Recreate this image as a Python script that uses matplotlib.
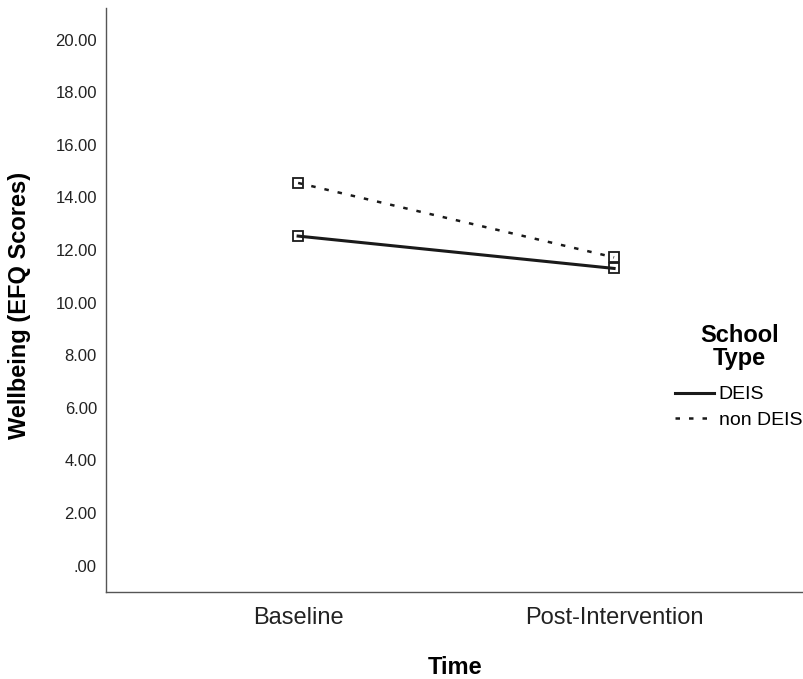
import matplotlib.pyplot as plt

plt.rcParams['font.family'] = ['Liberation Sans', 'DejaVu Sans']

# Данные
time_points = ["Baseline", "Post-Intervention"]
deis = [12.53, 11.30]
non_deis = [14.55, 11.72]
y_ticks = [0, 2, 4, 6, 8, 10, 12, 14, 16, 18, 20]
y_tick_labels = [".00", "2.00", "4.00", "6.00", "8.00", "10.00",
                 "12.00", "14.00", "16.00", "18.00", "20.00"]

fig = plt.figure(figsize=(8.04, 6.79), dpi=100)
ax = fig.add_axes([106 / 804, 1 - 592 / 679, 698 / 804, 584 / 679])

x = list(range(len(time_points)))
line_col = '#1a1a1a'

ax.plot(x, deis, color=line_col, lw=2.2, label="DEIS")
ax.plot(x, non_deis, color=line_col, lw=1.8, linestyle=(0, (1.8, 3.6)), label="non DEIS")
# маркеры отдельно, чтобы не попали в легенду
ax.plot(x, deis, linestyle='none', marker='s', ms=7, mfc='none', mec=line_col, mew=1.3)
ax.plot(x, non_deis, linestyle='none', marker='s', ms=7, mfc='none', mec=line_col, mew=1.3)

ax.set_xlim(-0.608, 1.601)
ax.set_ylim(-1.0, 21.2)

ax.set_xticks(x)
ax.set_xticklabels(time_points, fontsize=17, color='#222222')
ax.set_yticks(y_ticks)
ax.set_yticklabels(y_tick_labels, fontsize=12, color='#222222')
ax.tick_params(axis='both', length=0)
ax.tick_params(axis='x', pad=11)
ax.tick_params(axis='y', pad=6.5)

for side in ['top', 'right']:
    ax.spines[side].set_visible(False)
for side in ['left', 'bottom']:
    ax.spines[side].set_color('#555555')
    ax.spines[side].set_linewidth(1.0)

ax.set_xlabel("Time", fontsize=17, fontweight='bold')
ax.set_ylabel("Wellbeing (EFQ Scores)", fontsize=17, fontweight='bold')
ax.xaxis.set_label_coords(0.5, -0.109)
ax.yaxis.set_label_coords(-0.108, 0.49)

# легенда
ax.text(0.907, 0.4195, "School\nType", transform=ax.transAxes, ha='center', va='center',
        fontsize=17, fontweight='bold', linespacing=1.05)
leg = ax.legend(loc='upper left', bbox_to_anchor=(0.815, 0.353),
                frameon=False, fontsize=14, handlelength=2.0,
                handletextpad=0.25, labelspacing=0.4, borderaxespad=0, borderpad=0)

fig.savefig("out.png", dpi=100)
